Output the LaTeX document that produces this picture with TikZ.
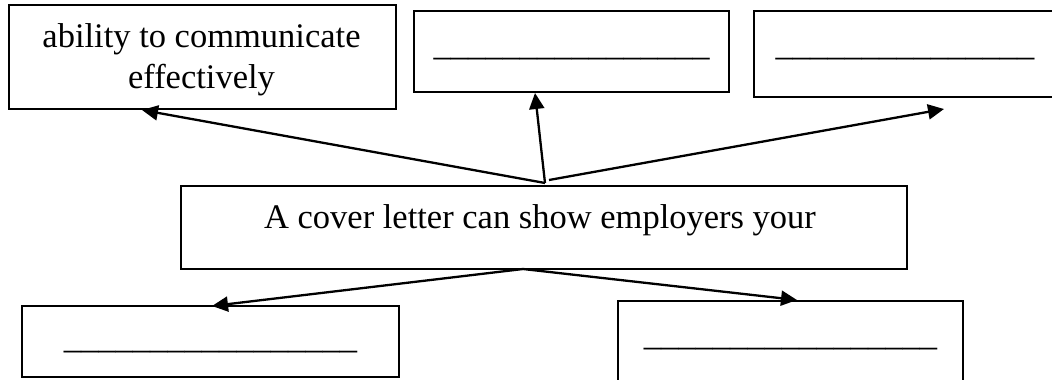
\documentclass[tikz,border=0pt]{standalone}
\usepackage{fontspec}
\setmainfont{Liberation Serif}
\usetikzlibrary{arrows.meta}

\tikzset{
  box/.style={draw=black, line width=1.5pt, rectangle, inner sep=0pt, fill=none},
  label text/.style={anchor=base, inner sep=0pt, font=\fontsize{34.5}{41}\selectfont},
  arr/.style={line width=2.3pt, -{Triangle[length=16pt, width=15pt]}},
}

\begin{document}
\begin{tikzpicture}[x=1pt, y=-1pt]
  \useasboundingbox (0,0) rectangle (1052,380);
  \clip (0,0) rectangle (1052,380);

  % central statement
  \node[box, minimum width=726pt, minimum height=83pt] (c) at (544,227.5) {};
  \node[label text] (ct) at (540,228) {A cover letter can show employers your};

  % top row
  \node[box, minimum width=387pt, minimum height=104pt] (b1) at (202.5,57) {};
  \node[label text] (b1a) at (201.5,47) {ability to communicate};
  \node[label text] (b1b) at (201.5,88) {effectively};

  \node[box, minimum width=315pt, minimum height=81pt] (b2) at (571.5,51.5) {};
  \node[label text] (b2t) at (571.5,55) {\_\_\_\_\_\_\_\_\_\_\_\_\_\_\_\_};

  \node[box, minimum width=306pt, minimum height=86pt] (b3) at (907,54) {};
  \node[label text] (b3t) at (905,55) {\_\_\_\_\_\_\_\_\_\_\_\_\_\_\_};

  % bottom row
  \node[box, minimum width=377pt, minimum height=71pt] (b4) at (210.5,341.5) {};
  \node[label text] (b4t) at (210.5,348) {\_\_\_\_\_\_\_\_\_\_\_\_\_\_\_\_\_};

  \node[box, minimum width=345pt, minimum height=90pt] (b5) at (790.5,346) {};
  \node[label text] (b5t) at (790.5,345.5) {\_\_\_\_\_\_\_\_\_\_\_\_\_\_\_\_\_};

  % arrow ends
  \coordinate (src) at (545,183);
  \coordinate (srcr) at (549,180);
  \coordinate (srcb) at (523,269);
  \coordinate (t1) at (142,110);
  \coordinate (t2) at (535,93);
  \coordinate (t3) at (944,109);
  \coordinate (t4) at (212,306);
  \coordinate (t5) at (797,300);

  \draw[arr] (src) -- (t1);
  \draw[arr] (src) -- (t2);
  \draw[arr] (srcr) -- (t3);
  \draw[arr] (srcb) -- (t4);
  \draw[arr] (srcb) -- (t5);
\end{tikzpicture}
\end{document}
